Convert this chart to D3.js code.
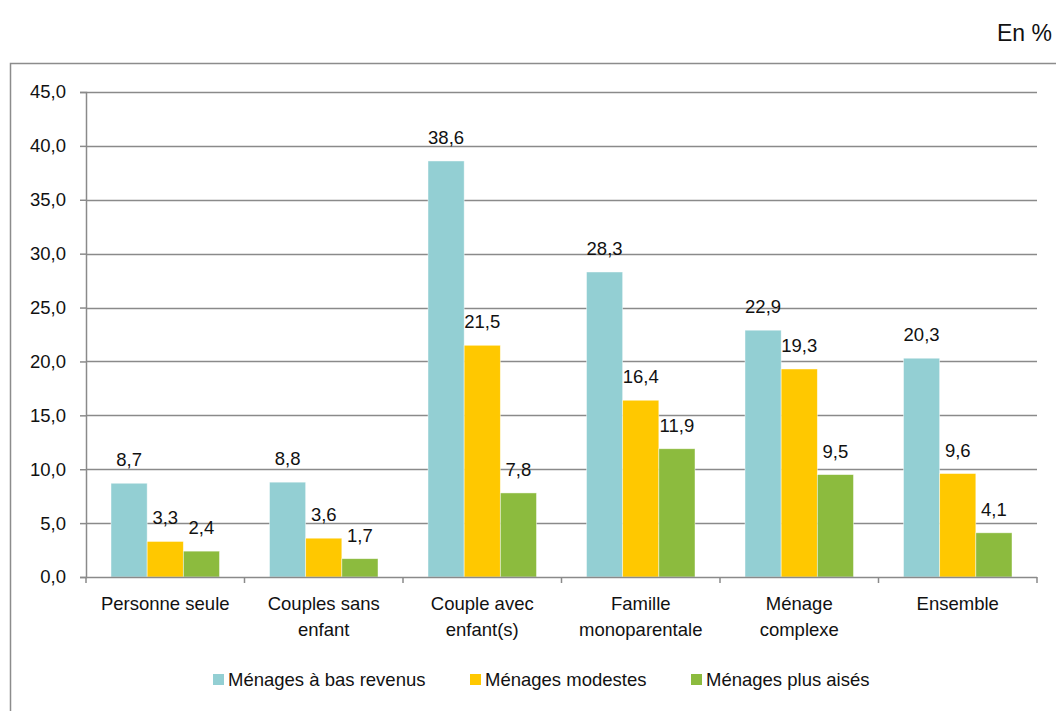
<!DOCTYPE html>
<html>
<head>
<meta charset="utf-8">
<script src="https://cdn.jsdelivr.net/npm/d3@7/dist/d3.min.js"></script>
<style>
  html, body { margin: 0; padding: 0; background: #fff; }
  svg { display: block; font-family: "Liberation Sans", Arial, sans-serif; }
</style>
</head>
<body>
<svg id="chart" width="1056" height="711"></svg>
<script>
// Household categories (two-line labels split on "|")
const categories = [
  "Personne seule",
  "Couples sans|enfant",
  "Couple avec|enfant(s)",
  "Famille|monoparentale",
  "Ménage|complexe",
  "Ensemble"
];
const seriesNames = ["Ménages à bas revenus", "Ménages modestes", "Ménages plus aisés"];
const basRevenus = [8.7, 8.8, 38.6, 28.3, 22.9, 20.3];
const modestes   = [3.3, 3.6, 21.5, 16.4, 19.3, 9.6];
const plusAises  = [2.4, 1.7, 7.8, 11.9, 9.5, 4.1];
const yTicks = [0, 5, 10, 15, 20, 25, 30, 35, 40, 45];
const colors = ["#93CFD3", "#FFC800", "#8CBB3E"];

const seriesValues = [basRevenus, modestes, plusAises];
const fmt = v => d3.format(".1f")(v).replace(".", ",");

const svg = d3.select("#chart");
const fontSize = 18.5;

// Outer chart frame (runs off the right and bottom edges)
svg.append("rect")
  .attr("x", 10.5).attr("y", 63.5)
  .attr("width", 1100).attr("height", 700)
  .attr("fill", "none").attr("stroke", "#8c8c8c").attr("stroke-width", 1.5);

// Unit note
svg.append("text")
  .attr("x", 1052).attr("y", 41)
  .attr("text-anchor", "end")
  .attr("font-size", 23)
  .attr("fill", "#111")
  .text("En %");

const plot = { left: 86, right: 1037, top: 92, bottom: 577 };

const y = d3.scaleLinear().domain([0, 45]).range([plot.bottom, plot.top]);
const x0 = d3.scaleBand().domain(categories).range([plot.left, plot.right]).padding(0);
const gap = 25;
const x1 = d3.scaleBand().domain(d3.range(seriesNames.length))
  .range([gap, x0.bandwidth() - gap]).padding(0);

// Horizontal gridlines
svg.append("g")
  .selectAll("line")
  .data(yTicks.filter(t => t > 0))
  .join("line")
  .attr("x1", plot.left).attr("x2", plot.right)
  .attr("y1", d => Math.round(y(d)) + 0.5).attr("y2", d => Math.round(y(d)) + 0.5)
  .attr("stroke", "#8a8a8a").attr("stroke-width", 1.5);

// Y axis
const yAxis = d3.axisLeft(y).tickValues(yTicks).tickFormat(fmt).tickSize(6).tickPadding(14);
const gy = svg.append("g").attr("transform", `translate(${plot.left},0)`).call(yAxis);
gy.select(".domain").attr("stroke", "#8a8a8a").attr("stroke-width", 1.5);
gy.selectAll(".tick line").attr("stroke", "#8a8a8a").attr("stroke-width", 1.5);
gy.selectAll(".tick text").attr("font-size", fontSize).attr("fill", "#111")
  .attr("font-family", "Liberation Sans, Arial, sans-serif");

// Bars
const groups = svg.append("g")
  .selectAll("g")
  .data(categories)
  .join("g")
  .attr("transform", d => `translate(${x0(d)},0)`);

groups.selectAll("rect")
  .data((d, i) => seriesValues.map((vals, s) => ({ s, v: vals[i] })))
  .join("rect")
  .attr("x", d => x1(d.s))
  .attr("y", d => y(d.v))
  .attr("width", x1.bandwidth())
  .attr("height", d => plot.bottom - y(d.v))
  .attr("fill", d => colors[d.s])
  .attr("stroke", "#ffffff").attr("stroke-opacity", 0.6).attr("stroke-width", 0.75);

// Value labels above bars
groups.selectAll("text.val")
  .data((d, i) => seriesValues.map((vals, s) => ({ s, v: vals[i] })))
  .join("text")
  .attr("class", "val")
  .attr("x", d => x1(d.s) + x1.bandwidth() / 2)
  .attr("y", d => y(d.v) - 17)
  .attr("text-anchor", "middle")
  .attr("font-size", fontSize)
  .attr("fill", "#111")
  .text(d => fmt(d.v));

// X axis line and category ticks
svg.append("line")
  .attr("x1", plot.left).attr("x2", plot.right)
  .attr("y1", plot.bottom + 0.5).attr("y2", plot.bottom + 0.5)
  .attr("stroke", "#8a8a8a").attr("stroke-width", 1.5);
const boundaries = categories.map(c => x0(c)).concat([plot.right]);
svg.append("g").selectAll("line")
  .data(boundaries)
  .join("line")
  .attr("x1", d => d).attr("x2", d => d)
  .attr("y1", plot.bottom).attr("y2", plot.bottom + 6)
  .attr("stroke", "#8a8a8a").attr("stroke-width", 1.5);

// Category labels
const catLabels = svg.append("g").selectAll("text")
  .data(categories)
  .join("text")
  .attr("x", d => x0(d) + x0.bandwidth() / 2)
  .attr("y", 610)
  .attr("text-anchor", "middle")
  .attr("font-size", fontSize)
  .attr("fill", "#111");
catLabels.selectAll("tspan")
  .data(d => d.split("|"))
  .join("tspan")
  .attr("x", function () { return d3.select(this.parentNode).attr("x"); })
  .attr("dy", (d, i) => i === 0 ? 0 : 26)
  .text(d => d);

// Legend
const legendX = [213, 470, 691];
const legend = svg.append("g").selectAll("g")
  .data(seriesNames)
  .join("g")
  .attr("transform", (d, i) => `translate(${legendX[i]},674)`);
legend.append("rect")
  .attr("width", 11).attr("height", 11)
  .attr("fill", (d, i) => colors[i]);
legend.append("text")
  .attr("x", 15).attr("y", 12)
  .attr("font-size", fontSize)
  .attr("fill", "#111")
  .text(d => d);
</script>
</body>
</html>
